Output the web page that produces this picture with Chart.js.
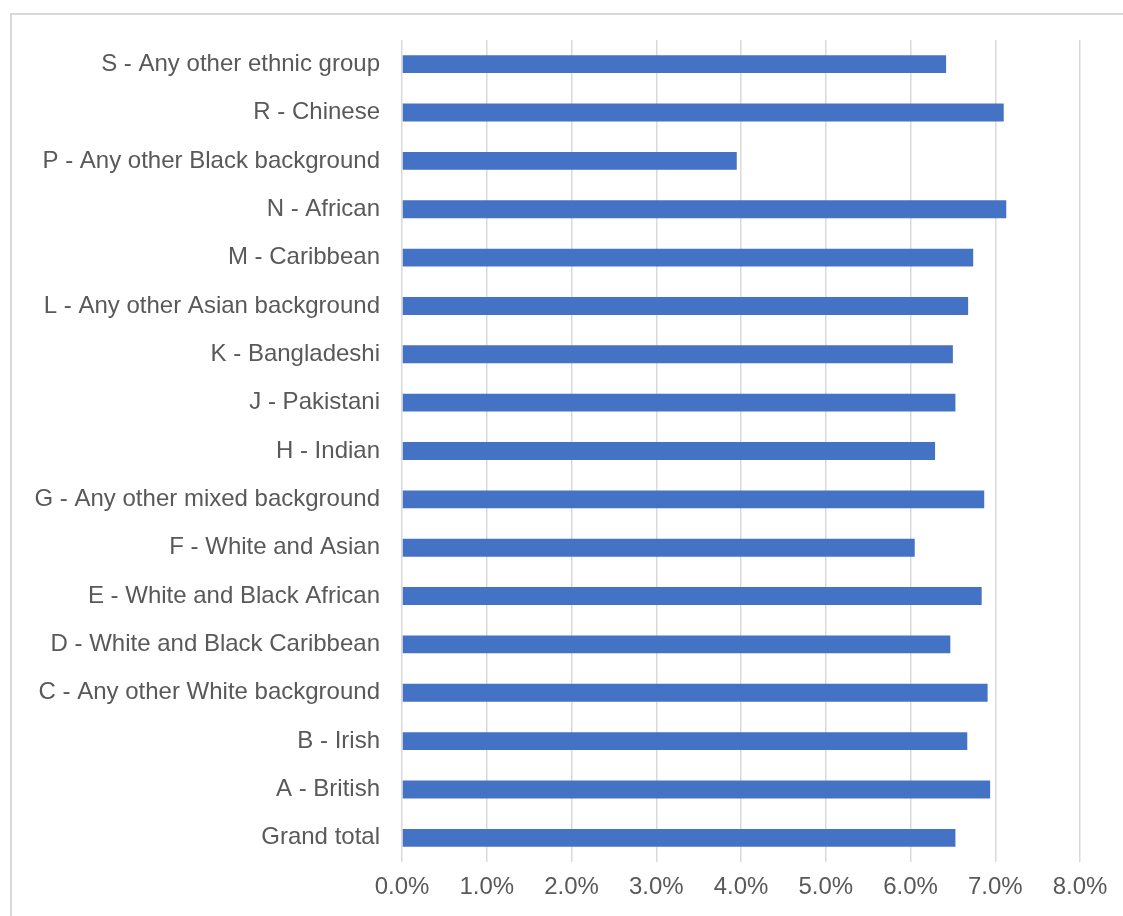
<!DOCTYPE html>
<html>
<head>
<meta charset="utf-8">
<script src="https://cdn.jsdelivr.net/npm/chart.js@4"></script>
<style>
  html, body { margin: 0; padding: 0; background: #fff; overflow: hidden; }
  #frame {
    position: absolute; left: 10px; top: 13px;
    width: 1200px; height: 1000px;
    border: 2px solid #d9d9d9; box-sizing: border-box;
  }
  #wrap { position: absolute; left: 0; top: 0; width: 1123px; height: 916px; }
</style>
</head>
<body>
<div id="frame"></div>
<div id="wrap"><canvas id="grafica"></canvas></div>
<script>
// categorias (de arriba hacia abajo)
const categories = [
  "S - Any other ethnic group",
  "R - Chinese",
  "P - Any other Black background",
  "N - African",
  "M - Caribbean",
  "L - Any other Asian background",
  "K - Bangladeshi",
  "J - Pakistani",
  "H - Indian",
  "G - Any other mixed background",
  "F - White and Asian",
  "E - White and Black African",
  "D - White and Black Caribbean",
  "C - Any other White background",
  "B - Irish",
  "A - British",
  "Grand total"
];

// valores en %
const values = [6.42, 7.10, 3.95, 7.13, 6.74, 6.68, 6.50, 6.53, 6.29, 6.87, 6.05, 6.84, 6.47, 6.91, 6.67, 6.94, 6.53];

const xMax = 8;
const xStep = 1;

const canvas = document.getElementById("grafica");
canvas.width = 1123;
canvas.height = 916;

const fuente = { family: "'Liberation Sans', Arial, sans-serif", size: 24 };

new Chart(canvas.getContext("2d"), {
  type: "bar",
  data: {
    labels: categories,
    datasets: [{
      data: values,
      backgroundColor: "#4472C4",
      borderWidth: 0,
      barPercentage: 0.74,
      categoryPercentage: 0.5
    }]
  },
  options: {
    indexAxis: "y",
    responsive: false,
    animation: false,
    layout: { padding: { top: 40, right: 43, bottom: 0, left: 0 } },
    plugins: {
      legend: { display: false },
      tooltip: { enabled: false }
    },
    scales: {
      x: {
        min: 0,
        max: xMax,
        ticks: {
          stepSize: xStep,
          color: "#595959",
          font: fuente,
          padding: 11,
          maxRotation: 0,
          callback: v => v.toFixed(1) + "%"
        },
        grid: { color: "#d9d9d9", lineWidth: 1.5, drawTicks: false },
        border: { display: false },
        afterFit: s => { s.height = 54; }
      },
      y: {
        ticks: { color: "#595959", font: fuente, padding: 22, autoSkip: false },
        grid: { display: false, drawTicks: false },
        border: { display: false },
        afterFit: s => { s.width = 402; }
      }
    }
  }
});
</script>
</body>
</html>
